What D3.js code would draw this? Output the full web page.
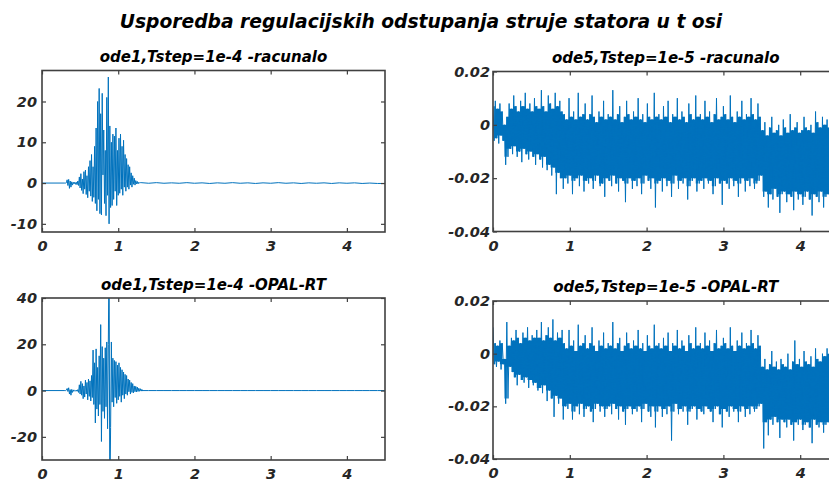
<!DOCTYPE html>
<html><head><meta charset="utf-8">
<script src="https://cdn.jsdelivr.net/npm/d3@7"></script>
<style>
body{margin:0;background:#fff}
svg{display:block}
text{font-family:"DejaVu Sans",sans-serif;font-weight:bold;font-style:italic}
</style>
</head><body>
<svg id="c" width="829" height="481"></svg>
<script>
// ---------- DATA ----------
const mainTitle = "Usporedba regulacijskih odstupanja struje statora u t osi";
const panelTitles = ["ode1,Tstep=1e-4 -racunalo","ode5,Tstep=1e-5 -racunalo","ode1,Tstep=1e-4 -OPAL-RT","ode5,Tstep=1e-5 -OPAL-RT"];
const xTicks = [0,1,2,3,4];
const xTickLabels = ["0","1","2","3","4"];
const yTicksOde1Rac = [-10,0,10,20];
const yTicksOde1Opal = [-20,0,20,40];
const yTicksOde5 = [-40,-20,0,20];            // in units of 1e-3
const yTickLabelsOde5 = ["-0.04","-0.02","0","0.02"];

// ode1 burst samples, t = 0.30, 0.31, ... (step 0.01)
const burstStart = 0.30, burstStep = 0.01;
const ode1Rac = [
 0,0,0.1,0.8,-0.6,0.9,-1.3,0.5,-1.0,0.3,
 -0.5,0.2,-0.2,0.2,-0.3,0.2,-0.4,0.5,-0.6,1.5,
 -1.2,2.3,-1.8,1.0,-2.6,2.8,-1.5,3.2,-2.8,1.8,
 -3.6,4.0,-2.0,5.5,-3.2,7.0,-4.5,4.0,-3.5,9.0,
 -5.0,13.5,-6.8,20.0,-4.0,23.2,-7.5,17.0,-7.8,22.0,
 2.0,13.0,-5.0,8.0,-8.0,21.0,-3.0,26.0,-10.0,14.0,
 -6.0,10.0,-5.5,12.0,-4.0,11.5,-2.0,13.5,-5.5,8.0,
 -3.0,11.0,-2.5,12.0,-1.5,9.0,-3.0,10.5,-1.0,7.0,
 -2.0,6.0,-1.0,4.5,-1.5,4.0,-0.5,2.5,-1.0,1.8,
 -0.3,1.2,-0.5,0.6,-0.2,0.4,-0.2,0.2,0,0.1];
// tails, t = 1.3 ... 4.5 step 0.1
const tailStart = 1.3, tailStep = 0.1;
const ode1RacTail = [0.1,-0.05,0.1,-0.05,0.05,-0.05,0.1,-0.05,0.05,-0.1,0.05,-0.05,0.1,-0.05,0.05,-0.1,0.05,-0.05,0.1,-0.05,0.05,-0.1,0.05,-0.05,0.05,-0.1,0.05,-0.05,0.05,-0.1,0,-0.1,-0.1];
const ode1Opal = [
 0,0,0.2,0.9,-0.4,1.2,-1.5,0.4,-2.0,0.5,
 -0.8,0.3,-0.3,0.1,-0.2,0.2,-0.3,0.4,-0.8,2.5,
 -1.5,4.0,-2.0,3.0,-3.5,2.0,-2.8,4.5,-1.5,3.5,
 -4.0,5.0,-2.5,4.2,-4.5,6.5,-3.0,17.5,-6.0,12.0,
 -14.0,18.0,-8.0,10.0,-11.0,15.0,-6.0,28.5,-22.0,19.0,
 -9.0,14.0,-12.0,18.5,-7.0,21.0,-16.5,20.0,60,-50,
 -16.0,21.0,-5.0,14.0,-7.0,13.0,-3.0,12.5,-5.5,11.0,
 -4.0,12.0,-2.5,10.0,-5.0,9.0,-2.0,8.0,-3.5,7.0,
 -1.5,6.5,-2.0,5.0,-0.5,4.5,-1.5,3.5,-0.8,3.0,
 -1.0,2.0,-0.5,1.8,-0.6,1.5,-0.4,1.0,-0.3,0.8,
 -0.2,0.5,0];
const ode1OpalTail = [0,0,0,0,0,0,0,0,0,0,0,0,0,0,0,0,0,0,0,0,0,0,0,0,0,0,0,0,0,0,0,0,0];

// ode5: per 0.03 s bin, upper and lower extremes (units 1e-3)
const binStep = 0.03;
const ode5RacHi = [
 7,9,6,8,5,0,3,
 8,6,11,7,5,9,7,12,6,8,5,10,7,
 6,13,7,5,11,8,6,12,7,9,5,
 4,2,10,3,5,2,12,3,4,8,
 2,4,11,3,1,5,3,9,2,4,
 3,13,2,4,7,1,3,9,4,2,
 5,3,10,2,4,1,8,3,2,12,
 3,4,2,7,3,9,1,4,3,10,
 2,5,3,1,8,4,2,11,3,4,
 2,9,3,5,1,4,10,2,3,7,
 4,2,11,3,1,5,3,9,2,4,
 3,10,4,2,8,3,
 -2,1,-4,-1,3,-3,-2,0,-4,2,
 -1,-3,4,-2,-1,1,-3,-2,3,-1,
 -2,0,-3,5,1,-1,3,0,2,-1,
 4,1,5];
const ode5RacLo = [
 -6,-5,-7,-4,-6,-15,-12,
 -9,-11,-8,-12,-10,-14,-9,-11,-13,-10,-12,-15,-11,
 -13,-16,-12,-17,-15,-19,-16,-26,-18,-20,-24,
 -20,-22,-19,-26,-21,-20,-23,-19,-25,-21,
 -22,-20,-24,-21,-19,-23,-22,-27,-20,-21,
 -23,-19,-22,-25,-20,-21,-29,-22,-20,-24,
 -21,-23,-20,-26,-22,-19,-21,-24,-20,-31,
 -22,-21,-25,-20,-23,-21,-27,-22,-19,-24,
 -21,-22,-20,-28,-23,-21,-20,-25,-22,-21,
 -24,-20,-22,-21,-26,-23,-20,-22,-30,-21,
 -22,-24,-20,-23,-21,-27,-22,-20,-25,-21,
 -23,-20,-24,-22,-21,-19,
 -27,-25,-31,-26,-28,-24,-27,-33,-26,-25,
 -29,-26,-27,-32,-25,-28,-26,-30,-27,-25,
 -28,-34,-26,-27,-29,-25,-31,-27,-26,-28,
 -30,-27,-32];
const ode5OpalHi = [
 10,4,3,5,4,-2,12,
 3,6,5,9,6,4,8,6,10,5,7,6,9,
 6,12,5,7,10,6,13,5,8,6,9,
 4,2,9,3,5,1,11,3,4,7,
 2,4,10,3,1,5,3,8,2,4,
 3,12,2,4,6,1,3,8,4,2,
 5,3,9,2,4,1,7,3,2,11,
 3,4,2,6,3,8,1,4,3,9,
 2,5,3,1,7,4,2,10,3,4,
 2,8,3,5,1,4,9,2,3,6,
 4,2,10,3,1,5,3,8,2,4,
 3,9,4,2,7,3,
 -5,-2,-6,-4,1,-5,-3,-6,-2,-4,
 -5,0,-6,-3,5,-4,-2,-5,1,-3,
 -4,-1,-5,2,-2,-3,0,-1,2,0,
 3,1,2];
const ode5OpalLo = [
 -4,-5,-3,-6,-4,-19,-17,
 -5,-7,-9,-12,-8,-10,-11,-9,-13,-10,-12,-11,-14,
 -13,-15,-12,-18,-14,-17,-24,-16,-19,-17,-25,
 -20,-21,-19,-25,-22,-20,-23,-19,-24,-21,
 -20,-22,-26,-21,-19,-22,-20,-24,-21,-20,
 -23,-19,-21,-25,-20,-22,-27,-21,-20,-23,
 -21,-22,-20,-26,-21,-19,-22,-24,-20,-28,
 -22,-20,-24,-21,-23,-20,-33,-22,-19,-23,
 -21,-22,-20,-27,-22,-21,-20,-25,-21,-22,
 -23,-20,-21,-22,-26,-21,-20,-23,-28,-21,
 -22,-24,-20,-22,-21,-26,-22,-20,-24,-21,
 -23,-20,-22,-21,-20,-19,
 -36,-26,-31,-25,-27,-24,-26,-32,-25,-26,
 -28,-25,-27,-33,-26,-27,-25,-29,-27,-26,
 -28,-34,-25,-27,-28,-26,-30,-27,-26,-29,
 -31,-28,-30];

// ---------- BUILD SERIES ----------
function ode1Series(burst, tail){
  const pts = [[0,0]];
  burst.forEach((v,i)=>pts.push([burstStart+i*burstStep, v]));
  tail.forEach((v,i)=>pts.push([tailStart+i*tailStep, v]));
  return pts;
}
function ode5Series(hi, lo){
  const pts = [];
  hi.forEach((v,i)=>{ pts.push([i*binStep, v]); pts.push([i*binStep+binStep/2, lo[i]]); });
  return pts;
}
// dense core of the band: where consecutive swings overlap
function ode5Core(hi, lo){
  return hi.map((v,i)=>{
    const b = Math.min(hi.length-1,i+1);
    return [i*binStep+binStep/2, Math.min(hi[i],hi[b]), Math.max(lo[i],lo[b])];
  });
}

const color = "#0072BD", axisColor = "#404040", textColor = "#262626";
const svg = d3.select("#c");

svg.append("text").attr("x",421).attr("y",28).attr("text-anchor","middle")
  .attr("font-size",18.7).attr("fill","#000").text(mainTitle);

const panels = [
  {L:42,R:385,T:70.5,B:232,yDom:[-12,27.6],yT:yTicksOde1Rac,yL:yTicksOde1Rac.map(String),data:ode1Series(ode1Rac,ode1RacTail),title:panelTitles[0],tY:62,pad:5},
  {L:493,R:838.6,T:71.5,B:231.5,yDom:[-40,20],yT:yTicksOde5,yL:yTickLabelsOde5,data:ode5Series(ode5RacHi,ode5RacLo),core:ode5Core(ode5RacHi,ode5RacLo),title:panelTitles[1],tY:63,pad:3},
  {L:42,R:385,T:298,B:460,yDom:[-30,40],yT:yTicksOde1Opal,yL:yTicksOde1Opal.map(String),data:ode1Series(ode1Opal,ode1OpalTail),title:panelTitles[2],tY:290,pad:5},
  {L:493,R:838.6,T:301,B:459,yDom:[-40,20],yT:yTicksOde5,yL:yTickLabelsOde5,data:ode5Series(ode5OpalHi,ode5OpalLo),core:ode5Core(ode5OpalHi,ode5OpalLo),title:panelTitles[3],tY:292,pad:3}
];

panels.forEach((p,k)=>{
  const x = d3.scaleLinear().domain([0,4.5]).range([p.L,p.R]);
  const y = d3.scaleLinear().domain(p.yDom).range([p.B,p.T]);
  const g = svg.append("g");
  const cid = "clip"+k;
  svg.append("clipPath").attr("id",cid).append("rect")
    .attr("x",p.L).attr("y",p.T).attr("width",p.R-p.L).attr("height",p.B-p.T);

  if(p.core){
    g.append("path").datum(p.core).attr("clip-path",`url(#${cid})`)
      .attr("fill",color).attr("stroke","none")
      .attr("d", d3.area().x(d=>x(d[0])).y1(d=>y(d[1])).y0(d=>y(d[2])).curve(d3.curveStep));
  }
  g.append("path").datum(p.data).attr("clip-path",`url(#${cid})`)
    .attr("fill","none").attr("stroke",color).attr("stroke-width",1)
    .attr("stroke-linejoin","miter")
    .attr("d", d3.line().x(d=>x(d[0])).y(d=>y(d[1])));

  const fmtX = (d,i)=>xTickLabels[i];
  const fmtY = (d,i)=>p.yL[i];
  const ab = g.append("g").attr("transform",`translate(0,${p.B})`)
    .call(d3.axisBottom(x).tickValues(xTicks).tickFormat(fmtX).tickSizeInner(-4).tickSizeOuter(0).tickPadding(9));
  const at = g.append("g").attr("transform",`translate(0,${p.T})`)
    .call(d3.axisTop(x).tickValues(xTicks).tickFormat("").tickSizeInner(-4).tickSizeOuter(0));
  const al = g.append("g").attr("transform",`translate(${p.L},0)`)
    .call(d3.axisLeft(y).tickValues(p.yT).tickFormat(fmtY).tickSizeInner(-4).tickSizeOuter(0).tickPadding(p.pad));
  const ar = g.append("g").attr("transform",`translate(${p.R},0)`)
    .call(d3.axisRight(y).tickValues(p.yT).tickFormat("").tickSizeInner(-4).tickSizeOuter(0));
  [ab,at,al,ar].forEach(a=>{
    a.select(".domain").remove();
    a.selectAll(".tick line").attr("stroke",axisColor).attr("stroke-width",1.2);
    a.selectAll("text").attr("font-size",14.5).attr("fill",textColor);
  });
  g.append("rect").attr("x",p.L).attr("y",p.T).attr("width",p.R-p.L).attr("height",p.B-p.T)
    .attr("fill","none").attr("stroke",axisColor).attr("stroke-width",1.6);

  g.append("text").attr("x",(p.L+p.R)/2).attr("y",p.tY).attr("text-anchor","middle")
    .attr("font-size",15).attr("fill","#000").text(p.title);
});
</script>
</body></html>
